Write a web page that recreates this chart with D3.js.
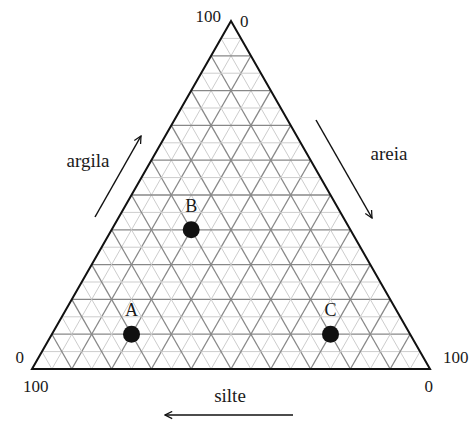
<!DOCTYPE html>
<html>
<head>
<meta charset="utf-8">
<script src="https://cdn.jsdelivr.net/npm/d3@7"></script>
<style>
body { margin: 0; background: #fff; }
text { font-family: "Liberation Serif", "DejaVu Serif", serif; fill: #1a1a1a; }
</style>
</head>
<body>
<script>
// grid steps (percent) and the three samples
const minorSteps = d3.range(5, 100, 5);
const sampleNames = ['A', 'B', 'C'];
const argila = [10, 40, 10];
const areia = [20, 20, 70];
const silte = [70, 40, 20];

const svg = d3.select('body').append('svg').attr('width', 474).attr('height', 421);

// horizontal position follows areia + argila/2, vertical follows argila
const x = d3.scaleLinear().domain([0, 100]).range([32, 430]);
const y = d3.scaleLinear().domain([0, 100]).range([369, 21]);
const pt = (ar, ae) => [x(ae + ar / 2), y(ar)];

const grid = svg.append('g');
minorSteps.forEach(k => {
  const major = k % 10 === 0;
  const col = major ? '#888' : '#cdcdcd';
  const segs = [
    [pt(k, 0), pt(k, 100 - k)],          // argila constant
    [pt(0, k), pt(100 - k, k)],          // areia constant
    [pt(100 - k, 0), pt(0, 100 - k)]     // silte constant
  ];
  segs.forEach(s => {
    grid.append('line')
      .attr('x1', s[0][0]).attr('y1', s[0][1])
      .attr('x2', s[1][0]).attr('y2', s[1][1])
      .style('stroke', col).style('stroke-width', major ? 1.3 : 1);
  });
});

// outline
svg.append('path')
  .attr('d', d3.line()([pt(100, 0), pt(0, 0), pt(0, 100)]) + 'Z')
  .style('fill', 'none').style('stroke', '#111').style('stroke-width', 2)
  .style('stroke-linejoin', 'miter');

// samples
const s = svg.append('g');
sampleNames.forEach((n, i) => {
  const p = pt(argila[i], areia[i]);
  s.append('circle').attr('cx', p[0]).attr('cy', p[1]).attr('r', 8.5).style('fill', '#111');
  s.append('text').attr('x', p[0]).attr('y', p[1] - 18).attr('text-anchor', 'middle')
    .style('font-size', '18px').text(n);
});

// corner numbers
const num = (tx, ty, t, anchor) => svg.append('text').attr('x', tx).attr('y', ty)
  .attr('text-anchor', anchor).style('font-size', '17px').text(t);
num(221, 22, '100', 'end');
num(240, 27, '0', 'start');
num(24, 363, '0', 'end');
num(23, 392, '100', 'start');
num(443, 363, '100', 'start');
num(433, 392, '0', 'end');

// axis names and arrows
svg.append('defs').append('marker').attr('id', 'ah')
  .attr('viewBox', '0 0 10 10').attr('refX', 9).attr('refY', 5)
  .attr('markerWidth', 9).attr('markerHeight', 9).attr('orient', 'auto')
  .attr('markerUnits', 'userSpaceOnUse')
  .append('path').attr('d', 'M1,1 L9,5 L1,9').style('fill', 'none')
  .style('stroke', '#111').style('stroke-width', 1.4);

const arrow = (x1, y1, x2, y2) => svg.append('line')
  .attr('x1', x1).attr('y1', y1).attr('x2', x2).attr('y2', y2)
  .style('stroke', '#111').style('stroke-width', 1.5).attr('marker-end', 'url(#ah)');
arrow(95, 217, 141, 136);
arrow(316, 120, 372, 218);
arrow(293, 415, 165, 415);

const lab = (tx, ty, t) => svg.append('text').attr('x', tx).attr('y', ty)
  .attr('text-anchor', 'middle').style('font-size', '19px').text(t);
lab(88, 167, 'argila');
lab(389, 160, 'areia');
lab(230, 402, 'silte');
</script>
</body>
</html>
